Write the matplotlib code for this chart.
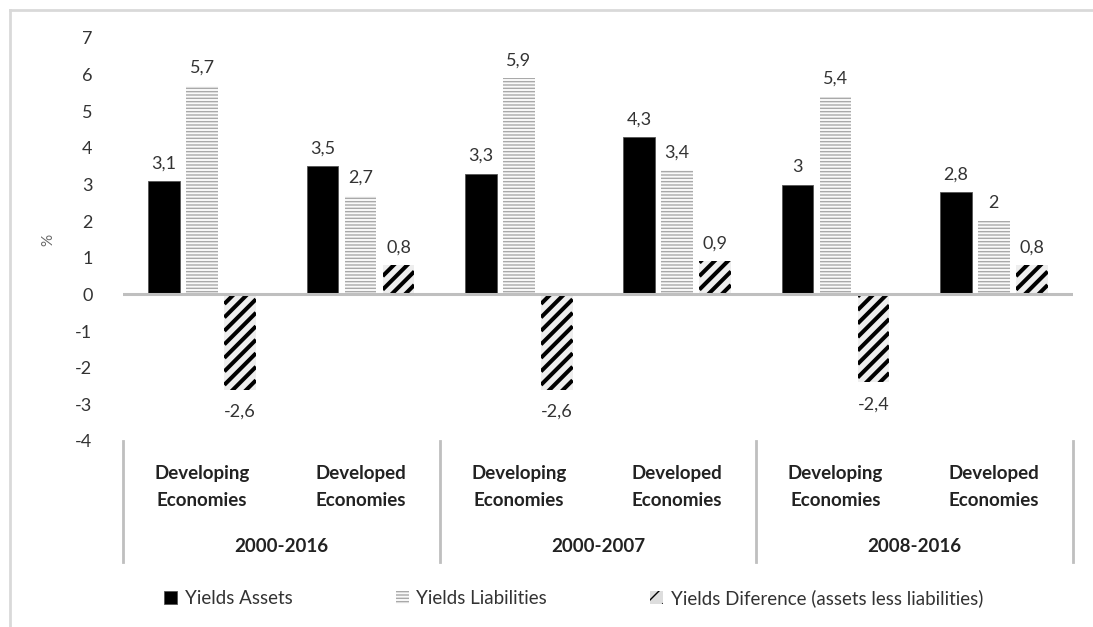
import matplotlib.pyplot as plt
import matplotlib.transforms as mtransforms
from matplotlib.collections import LineCollection
import numpy as np

plt.rcParams['font.family'] = ['Lato', 'DejaVu Sans']
plt.rcParams['axes.unicode_minus'] = False

periods = ["2000-2016", "2000-2007", "2008-2016"]
economies = ["Developing\nEconomies", "Developed\nEconomies"]
series_names = ["Yields Assets", "Yields Liabilities",
                "Yields Diference (assets less liabilities)"]
assets = [3.1, 3.5, 3.3, 4.3, 3.0, 2.8]
liabilities = [5.7, 2.7, 5.9, 3.4, 5.4, 2.0]
difference = [-2.6, 0.8, -2.6, 0.9, -2.4, 0.8]


def fmt(v):
    s = ("%.1f" % v).rstrip("0").rstrip(".")
    return s.replace(".", ",")


def stripe(ax, rect, step=13.5, lw=2.9):
    # wide upward diagonal, drawn in pixels and clipped to the bar
    (x0, y0), (x1, y1) = ax.transData.transform(
        [(rect.get_x(), rect.get_y()),
         (rect.get_x() + rect.get_width(), rect.get_y() + rect.get_height())])
    lo, hi = min(y0, y1), max(y0, y1)
    w = x1 - x0
    segs = []
    c = lo - w - step * 0.3
    while c < hi + step:
        segs.append([(x0, c), (x1, c + w)])
        c += step
    lc = LineCollection(segs, colors="black", linewidths=lw,
                        transform=mtransforms.IdentityTransform(), zorder=3.5)
    ax.add_collection(lc, autolim=False)
    lc.set_clip_path(rect)


fig = plt.figure(figsize=(10.93, 6.27), dpi=100)
ax = fig.add_axes([0.1125, 0.2967, 0.8692, 0.6427])

x = np.arange(len(assets))
w = 0.2
off = 0.24

ax.set_xlim(-0.5, len(assets) - 0.5)
ax.set_ylim(-4, 7)

b1 = ax.bar(x - off, assets, w, color="black", edgecolor="#555555", linewidth=0.6,
            label=series_names[0], zorder=3)
with plt.rc_context({'hatch.linewidth': 1.0}):
    b2 = ax.bar(x, liabilities, w, color="#fafafa", edgecolor="#a9a9a9", hatch="-----",
                linewidth=0, label=series_names[1], zorder=3)
b3 = ax.bar(x + off, difference, w, color="#eeeeee", linewidth=0, zorder=3)
for rect in b3:
    stripe(ax, rect)
with plt.rc_context({'hatch.linewidth': 2.0}):
    h3 = plt.Rectangle((0, 0), 1, 1, facecolor="#dddddd", edgecolor="black",
                       hatch="//", linewidth=0)

for bars, vals in [(b1, assets), (b2, liabilities), (b3, difference)]:
    for rect, v in zip(bars, vals):
        cx = rect.get_x() + rect.get_width() / 2
        if v >= 0:
            ax.annotate(fmt(v), (cx, v), xytext=(0, 7), textcoords="offset points",
                        ha="center", va="bottom", fontsize=13, color="#333333")
        else:
            ax.annotate(fmt(v), (cx, v), xytext=(0, -10), textcoords="offset points",
                        ha="center", va="top", fontsize=13, color="#333333")

ax.axhline(0, color="#bfbfbf", linewidth=2.2, zorder=4)
ax.set_yticks(range(-4, 8))
ax.tick_params(axis="y", length=0, pad=22, labelsize=13, labelcolor="#333333")
ax.set_xticks([])
for s in ax.spines.values():
    s.set_visible(False)
ax.set_ylabel("%", fontsize=11, color="#666666", labelpad=14)

trans = mtransforms.blended_transform_factory(ax.transData, ax.transAxes)
for i, xi in enumerate(x):
    ax.text(xi, -0.114, economies[i % 2], transform=trans, ha="center", va="center",
            fontsize=13.5, fontweight="bold", color="#222222", linespacing=1.75)
for g, p in enumerate(periods):
    ax.text(2 * g + 0.5, -0.263, p, transform=trans, ha="center", va="center",
            fontsize=13.5, fontweight="bold", color="#222222")
for xb in [-0.5, 1.5, 3.5, 5.5]:
    ax.plot([xb, xb], [0, -0.30], transform=trans, color="#bfbfbf", linewidth=2,
            clip_on=False)

leg = fig.legend(handles=[b1, b2, h3], labels=series_names, loc="center",
                 bbox_to_anchor=(0.525, 0.046),
                 ncol=3, frameon=False, fontsize=13.5, handlelength=0.7,
                 handleheight=0.7, columnspacing=5.5, handletextpad=0.4)
for t in leg.get_texts():
    t.set_color("#333333")

fig.add_artist(plt.Line2D([0.009, 1.0], [0.984, 0.984], color="#d9d9d9", linewidth=2,
                          transform=fig.transFigure))
fig.add_artist(plt.Line2D([0.009, 0.009], [0.0, 0.984], color="#d9d9d9", linewidth=2,
                          transform=fig.transFigure))

fig.savefig("out.png", dpi=100)
